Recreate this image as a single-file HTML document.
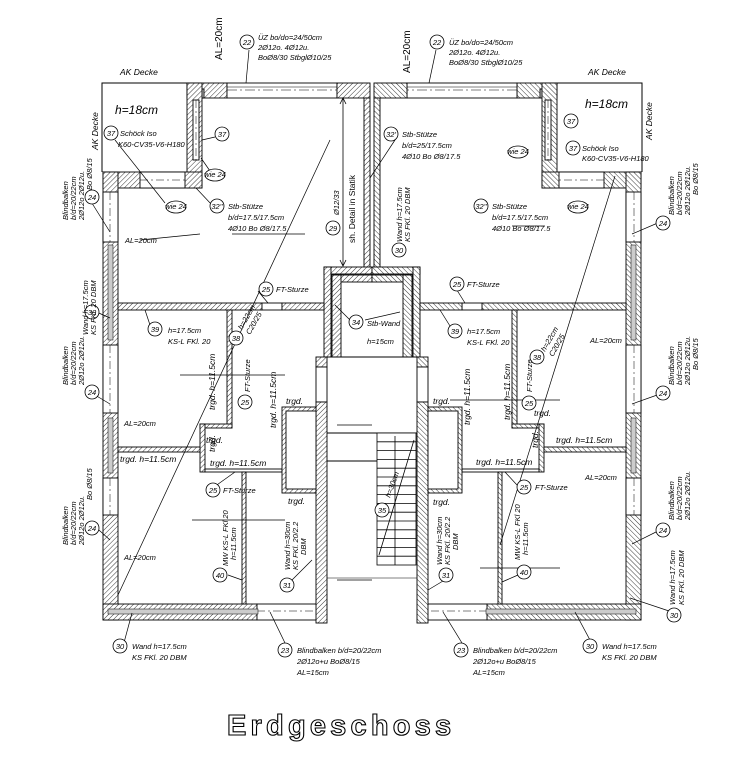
<!DOCTYPE html>
<html><head><meta charset="utf-8"><style>
html,body{margin:0;padding:0;background:#fff;}
svg{display:block;}
text{font-family:"Liberation Sans",sans-serif;font-style:italic;fill:#000;}
.s{font-size:7.5px;}
.t{font-size:8.5px;font-style:normal;}
.c{fill:#fff;stroke:#000;stroke-width:0.8;}
.l{stroke:#000;stroke-width:0.7;fill:none;}
</style></head><body>
<svg width="756" height="774" viewBox="0 0 756 774" xmlns="http://www.w3.org/2000/svg">
<defs>
<pattern id="h" width="3.5" height="3.5" patternUnits="userSpaceOnUse" patternTransform="rotate(45)">
<rect width="3.5" height="3.5" fill="#fff"/><line x1="0" y1="0" x2="0" y2="3.5" stroke="#222" stroke-width="0.9"/>
</pattern>
<g id="half" stroke="#000" stroke-width="0.9">
 <polyline points="187,83 102,83 102,172" fill="none" stroke-width="1"/>
 <rect x="187" y="83" width="40" height="15" fill="url(#h)"/>
 <rect x="227" y="83" width="110" height="15" fill="#fff"/>
 <line x1="227" y1="90" x2="337" y2="90" stroke-dasharray="10,3,2,3" stroke-width="0.6"/>
 <line x1="227" y1="87" x2="337" y2="87" stroke-width="0.5"/>
 <rect x="337" y="83" width="33" height="15" fill="url(#h)"/>
 <rect x="196" y="89" width="8" height="9" fill="#ccc"/>
 <rect x="187" y="83" width="15" height="105" fill="url(#h)"/>
 <rect x="193" y="100" width="6" height="60" fill="#fff"/>
 <line x1="196" y1="100" x2="196" y2="160" stroke-dasharray="8,3,2,3" stroke-width="0.5"/>
 <rect x="103" y="172" width="99" height="16" fill="url(#h)"/>
 <rect x="140" y="172" width="45" height="16" fill="#fff"/>
 <line x1="140" y1="180" x2="185" y2="180" stroke-dasharray="8,3,2,3" stroke-width="0.5"/>
 <rect x="103" y="172" width="15" height="448" fill="url(#h)"/>
 <rect x="103" y="192" width="15" height="50" fill="#fff"/>
 <rect x="103" y="345" width="15" height="68" fill="#fff"/>
 <rect x="103" y="478" width="15" height="37" fill="#fff"/>
 <line x1="110" y1="192" x2="110" y2="242" stroke-dasharray="8,3,2,3" stroke-width="0.5"/>
 <line x1="110" y1="345" x2="110" y2="413" stroke-dasharray="8,3,2,3" stroke-width="0.5"/>
 <line x1="110" y1="478" x2="110" y2="515" stroke-dasharray="8,3,2,3" stroke-width="0.5"/>
 <rect x="108" y="245" width="5" height="95" fill="#ccc" stroke-width="0.5"/>
 <rect x="108" y="418" width="5" height="55" fill="#ccc" stroke-width="0.5"/>
 <rect x="103" y="604" width="154" height="16" fill="url(#h)"/>
 <rect x="257" y="604" width="60" height="16" fill="#fff"/>
 <line x1="257" y1="611" x2="317" y2="611" stroke-dasharray="8,3,2,3" stroke-width="0.5"/>
 <rect x="108" y="609" width="150" height="5" fill="#ccc" stroke-width="0.5"/>
 <rect x="364" y="98" width="6" height="170" fill="url(#h)"/>
 <rect x="324" y="267" width="48" height="7" fill="url(#h)"/>
 <rect x="324" y="267" width="7" height="90" fill="url(#h)"/>
 <rect x="332" y="275" width="40" height="7" fill="url(#h)"/>
 <rect x="332" y="275" width="9" height="82" fill="url(#h)"/>
 <rect x="316" y="357" width="11" height="10" fill="url(#h)"/>
 <rect x="316" y="367" width="11" height="35" fill="#fff"/>
 <rect x="316" y="402" width="11" height="221" fill="url(#h)"/>
 <line x1="327" y1="357" x2="372" y2="357"/>
 <rect x="118" y="303" width="144" height="7" fill="url(#h)"/>
 <rect x="262" y="303" width="20" height="7" fill="#fff"/>
 <rect x="282" y="303" width="42" height="7" fill="url(#h)"/>
 <rect x="227" y="310" width="5" height="118" fill="url(#h)"/>
 <rect x="200" y="424" width="32" height="4" fill="url(#h)"/>
 <rect x="200" y="424" width="5" height="48" fill="url(#h)"/>
 <rect x="118" y="447" width="82" height="5" fill="url(#h)"/>
 <rect x="205" y="469" width="77" height="3" fill="#fff"/>
 <rect x="242" y="472" width="4" height="132" fill="url(#h)"/>
 <rect x="282" y="407" width="34" height="86" fill="url(#h)"/>
 <rect x="286" y="411" width="30" height="78" fill="#fff"/>
 <line x1="327" y1="433" x2="372" y2="433"/>
 <line x1="327" y1="461" x2="377" y2="461"/>
 <line x1="327" y1="578" x2="372" y2="578" stroke-width="0.5"/>
</g>
</defs>
<rect width="756" height="774" fill="#fff"/>
<use href="#half"/>
<use href="#half" transform="translate(744,0) scale(-1,1)"/>
<g stroke="#000" stroke-width="0.8" fill="none">
<rect x="377" y="433" width="39" height="132" fill="#fff"/>
<path d="M377 441.8H416M377 450.6H416M377 459.4H416M377 468.2H416M377 477H416M377 485.8H416M377 494.6H416M377 503.4H416M377 512.2H416M377 521H416M377 529.8H416M377 538.6H416M377 547.4H416M377 556.2H416"/>
<line x1="395" y1="436" x2="395" y2="565"/>
<line x1="379" y1="555" x2="414" y2="440"/>
<line x1="343" y1="98" x2="343" y2="266"/>
<path d="M340 104L343 98L346 104M340 260L343 266L346 260"/>
</g>
<g class="l">
<line x1="249" y1="50" x2="246" y2="83"/><line x1="436" y1="50" x2="429" y2="83"/>
<line x1="115" y1="140" x2="165" y2="203"/><line x1="215" y1="137" x2="202" y2="140"/>
<line x1="210" y1="171" x2="201" y2="158"/><line x1="212" y1="205" x2="196" y2="188"/>
<line x1="395" y1="140" x2="370" y2="178"/><line x1="232" y1="234" x2="305" y2="234"/>
<line x1="140" y1="240" x2="200" y2="234"/><line x1="545" y1="226" x2="512" y2="226"/>
<line x1="118" y1="595" x2="330" y2="140"/><line x1="500" y1="545" x2="615" y2="176"/>
<line x1="258" y1="291" x2="268" y2="303"/><line x1="455" y1="287" x2="465" y2="303"/>
<line x1="150" y1="325" x2="145" y2="310"/><line x1="450" y1="326" x2="440" y2="310"/>
<line x1="350" y1="320" x2="335" y2="305"/><line x1="365" y1="320" x2="400" y2="312"/>
<line x1="180" y1="375" x2="285" y2="375"/><line x1="450" y1="400" x2="560" y2="400"/>
<line x1="192" y1="520" x2="285" y2="520"/><line x1="480" y1="568" x2="560" y2="568"/>
<line x1="337" y1="425" x2="372" y2="425"/><line x1="337" y1="580" x2="372" y2="580"/>
<line x1="90" y1="200" x2="110" y2="232"/><line x1="90" y1="392" x2="110" y2="404"/>
<line x1="90" y1="522" x2="110" y2="540"/><line x1="92" y1="310" x2="110" y2="318"/>
<line x1="660" y1="222" x2="632" y2="234"/><line x1="660" y1="394" x2="632" y2="404"/>
<line x1="660" y1="530" x2="632" y2="544"/><line x1="672" y1="612" x2="630" y2="598"/>
<line x1="122" y1="650" x2="132" y2="613"/><line x1="285" y1="643" x2="270" y2="612"/>
<line x1="462" y1="643" x2="443" y2="612"/><line x1="590" y1="640" x2="575" y2="612"/>
<line x1="228" y1="575" x2="242" y2="580"/><line x1="518" y1="575" x2="502" y2="582"/>
<line x1="292" y1="580" x2="312" y2="560"/><line x1="448" y1="578" x2="428" y2="590"/>
<line x1="214" y1="487" x2="235" y2="472"/><line x1="517" y1="485" x2="505" y2="472"/>
</g>
<g>
<circle class="c" cx="247" cy="42" r="7"/><circle class="c" cx="437" cy="42" r="7"/>
<circle class="c" cx="111" cy="133" r="7"/><circle class="c" cx="222" cy="134" r="7"/>
<circle class="c" cx="573" cy="148" r="7"/><circle class="c" cx="571" cy="121" r="7"/>
<circle class="c" cx="391" cy="134" r="7"/><circle class="c" cx="217" cy="206" r="7"/>
<circle class="c" cx="481" cy="206" r="7"/><circle class="c" cx="333" cy="228" r="7"/>
<circle class="c" cx="399" cy="250" r="7"/><circle class="c" cx="266" cy="289" r="7"/>
<circle class="c" cx="457" cy="284" r="7"/><circle class="c" cx="155" cy="329" r="7"/>
<circle class="c" cx="455" cy="331" r="7"/><circle class="c" cx="356" cy="322" r="7"/>
<circle class="c" cx="236" cy="338" r="7"/><circle class="c" cx="537" cy="357" r="7"/>
<circle class="c" cx="245" cy="402" r="7"/><circle class="c" cx="529" cy="403" r="7"/>
<circle class="c" cx="213" cy="490" r="7"/><circle class="c" cx="524" cy="487" r="7"/>
<circle class="c" cx="92" cy="197" r="7"/><circle class="c" cx="92" cy="312" r="7"/>
<circle class="c" cx="92" cy="392" r="7"/><circle class="c" cx="92" cy="528" r="7"/>
<circle class="c" cx="663" cy="223" r="7"/><circle class="c" cx="663" cy="393" r="7"/>
<circle class="c" cx="663" cy="530" r="7"/><circle class="c" cx="674" cy="615" r="7"/>
<circle class="c" cx="120" cy="646" r="7"/><circle class="c" cx="285" cy="650" r="7"/>
<circle class="c" cx="461" cy="650" r="7"/><circle class="c" cx="590" cy="646" r="7"/>
<circle class="c" cx="220" cy="575" r="7"/><circle class="c" cx="287" cy="585" r="7"/>
<circle class="c" cx="382" cy="510" r="7"/><circle class="c" cx="524" cy="572" r="7"/>
<circle class="c" cx="446" cy="575" r="7"/>
<ellipse class="c" cx="215" cy="175" rx="10" ry="6"/><ellipse class="c" cx="176" cy="207" rx="10" ry="6"/>
<ellipse class="c" cx="518" cy="152" rx="10" ry="6"/><ellipse class="c" cx="578" cy="207" rx="10" ry="6"/>
</g>
<g class="s" text-anchor="middle" font-size="6.5">
<text x="247" y="45">22</text><text x="437" y="45">22</text><text x="111" y="136">37</text>
<text x="222" y="137">37</text><text x="573" y="151">37</text><text x="571" y="124">37</text>
<text x="391" y="137">32'</text><text x="217" y="209">32''</text><text x="481" y="209">32''</text>
<text x="266" y="292">25</text><text x="457" y="287">25</text><text x="155" y="332">39</text>
<text x="455" y="334">39</text><text x="356" y="325">34</text><text x="236" y="341">38</text>
<text x="537" y="360">38</text><text x="245" y="405">25</text><text x="529" y="406">25</text>
<text x="213" y="493">25</text><text x="524" y="490">25</text><text x="92" y="200">24</text>
<text x="92" y="315">30</text><text x="92" y="395">24</text><text x="92" y="531">24</text>
<text x="663" y="226">24</text><text x="663" y="396">24</text><text x="663" y="533">24</text>
<text x="674" y="618">30</text><text x="120" y="649">30</text><text x="285" y="653">23</text>
<text x="461" y="653">23</text><text x="590" y="649">30</text><text x="220" y="578">40</text>
<text x="287" y="588">31</text><text x="382" y="513">35</text><text x="524" y="575">40</text>
<text x="446" y="578">31</text><text x="333" y="231">29</text><text x="399" y="253">30</text>
<text x="215" y="177">wie 24</text><text x="176" y="209">wie 24</text>
<text x="518" y="154">wie 24</text><text x="578" y="209">wie 24</text>
</g>
<g class="s">
<text x="258" y="40">ÜZ bo/do=24/50cm</text><text x="258" y="50">2Ø12o. 4Ø12u.</text><text x="258" y="60">BoØ8/30 StbglØ10/25</text>
<text x="449" y="45">ÜZ bo/do=24/50cm</text><text x="449" y="55">2Ø12o. 4Ø12u.</text><text x="449" y="65">BoØ8/30 StbglØ10/25</text>
<text x="120" y="136">Schöck Iso</text><text x="118" y="147">K60-CV35-V6-H180</text>
<text x="582" y="151">Schöck Iso</text><text x="582" y="161">K60-CV35-V6-H180</text>
<text x="228" y="209">Stb-Stütze</text><text x="228" y="220">b/d=17.5/17.5cm</text><text x="228" y="231">4Ø10 Bo Ø8/17.5</text>
<text x="492" y="209">Stb-Stütze</text><text x="492" y="220">b/d=17.5/17.5cm</text><text x="492" y="231">4Ø10 Bo Ø8/17.5</text>
<text x="402" y="137">Stb-Stütze</text><text x="402" y="148">b/d=25/17.5cm</text><text x="402" y="159">4Ø10 Bo Ø8/17.5</text>
<text x="276" y="292">FT-Sturze</text><text x="467" y="287">FT-Sturze</text>
<text x="168" y="333">h=17.5cm</text><text x="168" y="344">KS-L FKl. 20</text>
<text x="467" y="334">h=17.5cm</text><text x="467" y="345">KS-L FKl. 20</text>
<text x="367" y="326">Stb-Wand</text><text x="367" y="344">h=15cm</text>
<text x="125" y="243">AL=20cm</text><text x="590" y="343">AL=20cm</text><text x="124" y="426">AL=20cm</text>
<text x="585" y="480">AL=20cm</text><text x="124" y="560">AL=20cm</text>
<text x="223" y="493">FT-Sturze</text><text x="535" y="490">FT-Sturze</text>
<text x="132" y="649">Wand h=17.5cm</text><text x="132" y="660">KS FKl. 20 DBM</text>
<text x="297" y="653">Blindbalken b/d=20/22cm</text><text x="297" y="664">2Ø12o+u BoØ8/15</text><text x="297" y="675">AL=15cm</text>
<text x="473" y="653">Blindbalken b/d=20/22cm</text><text x="473" y="664">2Ø12o+u BoØ8/15</text><text x="473" y="675">AL=15cm</text>
<text x="602" y="649">Wand h=17.5cm</text><text x="602" y="660">KS FKl. 20 DBM</text>
</g>
<g class="t">
<text x="120" y="75">AK Decke</text><text x="588" y="75">AK Decke</text>
<text x="206" y="443">trgd.</text><text x="120" y="462">trgd. h=11.5cm</text><text x="210" y="466">trgd. h=11.5cm</text>
<text x="286" y="404">trgd.</text><text x="288" y="504">trgd.</text><text x="534" y="416">trgd.</text>
<text x="556" y="443">trgd. h=11.5cm</text><text x="476" y="465">trgd. h=11.5cm</text>
<text x="433" y="404">trgd.</text><text x="433" y="505">trgd.</text>
</g>
<text x="115" y="114" font-size="12">h=18cm</text><text x="585" y="108" font-size="12">h=18cm</text>
<g class="t">
<text transform="translate(98,150) rotate(-90)">AK Decke</text>
<text transform="translate(652,140) rotate(-90)">AK Decke</text>
<text transform="translate(276,428) rotate(-90)">trgd. h=11.5cm</text>
<text transform="translate(215,410) rotate(-90)">trgd. h=11.5cm</text>
<text transform="translate(215,452) rotate(-90)">trgd.</text>
<text transform="translate(470,425) rotate(-90)">trgd. h=11.5cm</text>
<text transform="translate(510,420) rotate(-90)">trgd. h=11.5cm</text>
<text transform="translate(538,448) rotate(-90)">trgd.</text>
</g>
<g class="s">
<text font-size="10" transform="translate(222,60) rotate(-90)" style="font-style:normal">AL=20cm</text>
<text font-size="10" transform="translate(410,73) rotate(-90)" style="font-style:normal">AL=20cm</text>
<text transform="translate(355,243) rotate(-90)" font-size="8.5" style="font-style:normal">sh. Detail in Statik</text>
<text transform="translate(339,215) rotate(-90)">Ø12/33</text>
<text transform="translate(402,242) rotate(-90)">Wand h=17.5cm</text><text transform="translate(410,242) rotate(-90)">KS FKl. 20 DBM</text>
<text transform="translate(242,330) rotate(-60)">h=22cm</text><text transform="translate(250,335) rotate(-60)">C20/25</text>
<text transform="translate(545,352) rotate(-60)">h=22cm</text><text transform="translate(553,357) rotate(-60)">C20/25</text>
<text transform="translate(250,392) rotate(-90)">FT-Sturze</text><text transform="translate(532,392) rotate(-90)">FT-Sturze</text>
<text transform="translate(390,498) rotate(-70)">h=30cm</text>
<text transform="translate(228,566) rotate(-90)">MW KS-L FKl 20</text><text transform="translate(236,560) rotate(-90)">h=11.5cm</text>
<text transform="translate(520,560) rotate(-90)">MW KS-L FKl 20</text><text transform="translate(528,555) rotate(-90)">h=11.5cm</text>
<text transform="translate(290,570) rotate(-90)">Wand h=30cm</text><text transform="translate(298,570) rotate(-90)">KS FKl. 20/2.2</text><text transform="translate(306,555) rotate(-90)">DBM</text>
<text transform="translate(442,565) rotate(-90)">Wand h=30cm</text><text transform="translate(450,565) rotate(-90)">KS FKl. 20/2.2</text><text transform="translate(458,550) rotate(-90)">DBM</text>
<text transform="translate(68,220) rotate(-90)">Blindbalken</text><text transform="translate(76,220) rotate(-90)">b/d=20/22cm</text><text transform="translate(84,220) rotate(-90)">2Ø12o 2Ø12u.</text><text transform="translate(92,190) rotate(-90)">Bo Ø8/15</text>
<text transform="translate(88,335) rotate(-90)">Wand h=17.5cm</text><text transform="translate(96,335) rotate(-90)">KS FKl. 20 DBM</text>
<text transform="translate(68,385) rotate(-90)">Blindbalken</text><text transform="translate(76,385) rotate(-90)">b/d=20/22cm</text><text transform="translate(84,385) rotate(-90)">2Ø12o 2Ø12u.</text>
<text transform="translate(68,545) rotate(-90)">Blindbalken</text><text transform="translate(76,545) rotate(-90)">b/d=20/22cm</text><text transform="translate(84,545) rotate(-90)">2Ø12o 2Ø12u.</text><text transform="translate(92,500) rotate(-90)">Bo Ø8/15</text>
<text transform="translate(674,215) rotate(-90)">Blindbalken</text><text transform="translate(682,215) rotate(-90)">b/d=20/22cm</text><text transform="translate(690,215) rotate(-90)">2Ø12o 2Ø12u.</text><text transform="translate(698,195) rotate(-90)">Bo Ø8/15</text>
<text transform="translate(674,385) rotate(-90)">Blindbalken</text><text transform="translate(682,385) rotate(-90)">b/d=20/22cm</text><text transform="translate(690,385) rotate(-90)">2Ø12o 2Ø12u.</text><text transform="translate(698,370) rotate(-90)">Bo Ø8/15</text>
<text transform="translate(674,520) rotate(-90)">Blindbalken</text><text transform="translate(682,520) rotate(-90)">b/d=20/22cm</text><text transform="translate(690,520) rotate(-90)">2Ø12o 2Ø12u.</text>
<text transform="translate(675,605) rotate(-90)">Wand h=17.5cm</text><text transform="translate(684,605) rotate(-90)">KS FKl. 20 DBM</text>
</g>
<text x="227" y="735" font-size="29" letter-spacing="4.2" style="font-family:'Liberation Sans',sans-serif;font-weight:bold;font-style:normal;fill:#fff;stroke:#000;stroke-width:1.1">Erdgeschoss</text>
</svg>
</body></html>
